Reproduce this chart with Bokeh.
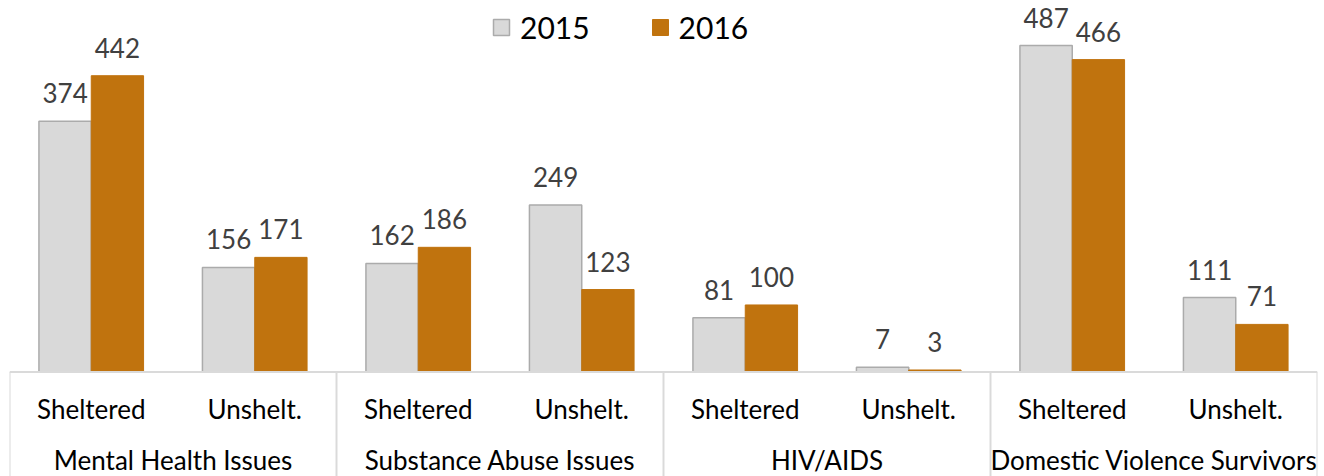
from bokeh.plotting import figure
from bokeh.models import (ColumnDataSource, FactorRange, Range1d, Span, Legend,
                          LegendItem)
from bokeh.transform import dodge
from bokeh.core.properties import value
from bokeh.embed import file_html
from bokeh.resources import INLINE

groups = ["Mental Health Issues", "Substance Abuse Issues", "HIV/AIDS",
          "Domestic Violence Survivors"]
subgroups = ["Sheltered", "Unshelt."]
series_names = ["2015", "2016"]
values_2015 = [374, 156, 162, 249, 81, 7, 487, 111]
values_2016 = [442, 171, 186, 123, 100, 3, 466, 71]

GRAY = "#d9d9d9"
GRAY_LINE = "#ababab"
ORANGE = "#c0730e"
FONT = value("Lato")

factors = [(g, s) for g in groups for s in subgroups]

src = ColumnDataSource(dict(
    x=factors,
    v15=values_2015,
    v16=values_2016,
    t15=[str(v) for v in values_2015],
    t16=[str(v) for v in values_2016],
    sub=[f[1] for f in factors],
))

p = figure(width=1324, height=476, output_backend="svg", toolbar_location=None,
           x_range=FactorRange(*factors, range_padding=0, group_padding=0,
                               factor_padding=0),
           y_range=Range1d(-155.9, 554.2),
           min_border_left=9, min_border_right=7, min_border_top=0,
           min_border_bottom=0)
p.xaxis.visible = False
p.yaxis.visible = False
p.xgrid.grid_line_color = None
p.ygrid.grid_line_color = None
p.outline_line_color = None
p.background_fill_color = "white"
p.border_fill_color = "white"

# category axis box
p.add_layout(Span(location=0, dimension="width", line_color="#dadada",
                  line_width=2))
first_of_group = [(g, subgroups[0]) for g in groups]
div_src = ColumnDataSource(dict(x=first_of_group))
p.segment(x0=dodge("x", -0.5, range=p.x_range), y0=0,
          x1=dodge("x", -0.5, range=p.x_range), y1=-300,
          source=div_src, line_color="#dadada", line_width=2)
last_src = ColumnDataSource(dict(x=[(groups[-1], subgroups[-1])]))
p.segment(x0=dodge("x", 0.5, range=p.x_range), y0=0,
          x1=dodge("x", 0.5, range=p.x_range), y1=-300,
          source=last_src, line_color="#dadada", line_width=2)

r15 = p.vbar(x=dodge("x", -0.16, range=p.x_range), top="v15", width=0.32,
             source=src, fill_color=GRAY, line_color=GRAY_LINE, line_width=1.5)
r16 = p.vbar(x=dodge("x", 0.16, range=p.x_range), top="v16", width=0.32,
             source=src, fill_color=ORANGE, line_color=ORANGE, line_width=1)

p.text(x=dodge("x", -0.16, range=p.x_range), y="v15", text="t15", source=src,
       text_font=FONT, text_font_size="26px", text_color="#404040",
       text_align="center", text_baseline="alphabetic", y_offset=-28)
p.text(x=dodge("x", 0.16, range=p.x_range), y="v16", text="t16", source=src,
       text_font=FONT, text_font_size="26px", text_color="#404040",
       text_align="center", text_baseline="alphabetic", y_offset=-28)

# subgroup labels
p.text(x="x", y=-54.5, text="sub", source=src, text_font=FONT,
       text_font_size="26px", text_color="#000000", text_align="center",
       text_baseline="alphabetic")
# group labels
grp_src = ColumnDataSource(dict(x=first_of_group, t=groups))
p.text(x=dodge("x", 0.5, range=p.x_range), y=-132, text="t", source=grp_src,
       text_font=FONT, text_font_size="26px", text_color="#000000",
       text_align="center", text_baseline="alphabetic")

legend = Legend(items=[LegendItem(label=series_names[0], renderers=[r15]),
                       LegendItem(label=series_names[1], renderers=[r16])],
                orientation="horizontal", location=(482, 431),
                label_text_font="Lato", label_text_font_size="30px",
                label_text_color="#000000", glyph_width=20, glyph_height=20,
                label_standoff=9, spacing=60, padding=0, margin=0,
                border_line_alpha=0, background_fill_alpha=0)
p.add_layout(legend)

open("out.html", "w").write(file_html(p, INLINE))
